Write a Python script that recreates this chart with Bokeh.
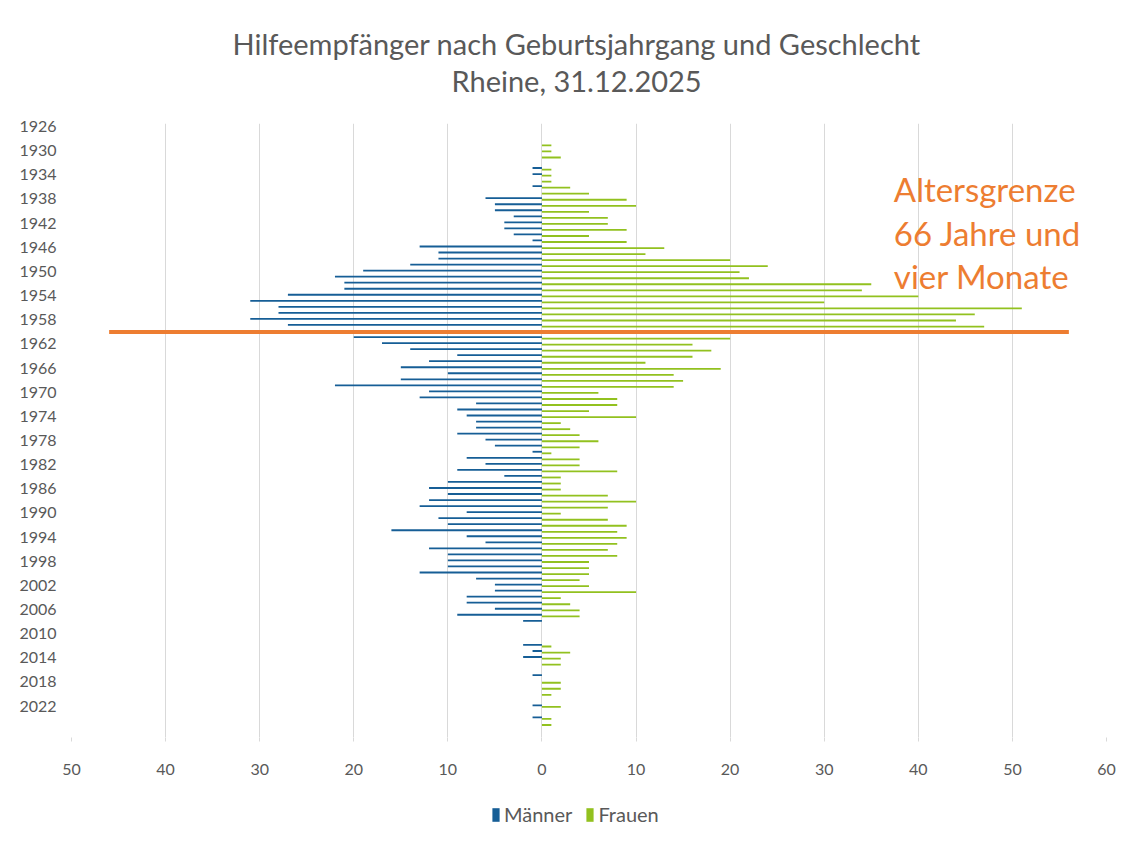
from bokeh.plotting import figure
from bokeh.layouts import column
from bokeh.models import Range1d, FixedTicker, Legend, LegendItem, Title
from bokeh.embed import file_html
from bokeh.resources import INLINE
from bokeh.core.properties import value

# ---------------- data ----------------
years = list(range(1926, 2026))

maenner = [
    0, 0, 0, 0, 0, 0, 0, 1, 1, 0,          # 1926-1935
    1, 0, 6, 5, 5, 3, 4, 4, 3, 1,          # 1936-1945
    13, 11, 11, 14, 19, 22, 21, 21, 27, 31,  # 1946-1955
    28, 28, 31, 27, 0, 20, 17, 14, 9, 12,  # 1956-1965
    15, 10, 15, 22, 12, 13, 7, 9, 8, 7,    # 1966-1975
    7, 9, 6, 5, 1, 8, 6, 9, 4, 10,         # 1976-1985
    12, 10, 12, 13, 8, 11, 10, 16, 8, 6,   # 1986-1995
    12, 10, 10, 10, 13, 7, 5, 5, 8, 8,     # 1996-2005
    5, 9, 2, 0, 0, 0, 2, 1, 2, 0,          # 2006-2015
    0, 1, 0, 0, 0, 0, 1, 0, 1, 0,          # 2016-2025
]

frauen = [
    0, 0, 0, 1, 1, 2, 0, 1, 1, 1,          # 1926-1935
    3, 5, 9, 10, 5, 7, 7, 9, 5, 9,         # 1936-1945
    13, 11, 20, 24, 21, 22, 35, 34, 40, 30,  # 1946-1955
    51, 46, 44, 47, 0, 20, 16, 18, 16, 11,  # 1956-1965
    19, 14, 15, 14, 6, 8, 8, 5, 10, 2,     # 1966-1975
    3, 4, 6, 4, 1, 4, 4, 8, 2, 2,          # 1976-1985
    2, 7, 10, 7, 2, 7, 9, 8, 9, 8,         # 1986-1995
    7, 8, 5, 5, 5, 4, 5, 10, 2, 3,         # 1996-2005
    4, 4, 0, 0, 0, 0, 1, 3, 2, 2,          # 2006-2015
    0, 0, 2, 2, 1, 0, 2, 0, 1, 1,          # 2016-2025
]

x_ticks = [-50, -40, -30, -20, -10, 0, 10, 20, 30, 40, 50, 60]
y_tick_years = list(range(1926, 2023, 4))

title_line1 = "Hilfeempfänger nach Geburtsjahrgang und Geschlecht"
title_line2 = "Rheine, 31.12.2025"
note_lines = ["Altersgrenze", "66 Jahre und", "vier Monate"]
limit_year = 1960.05
limit_x = (-46, 56)

# ---------------- styling ----------------
FONT = "Lato"
GRAY = "#595959"
BLUE = "#165E96"
GREEN = "#92C11F"
ORANGE = "#ED7D31"

p = figure(
    width=1136, height=790,
    x_range=Range1d(-50, 60),
    y_range=Range1d(2027.2, 1925.5),
    output_backend="svg", toolbar_location=None,
    min_border_left=71, min_border_right=30,
    min_border_top=123, min_border_bottom=53,
)
p.outline_line_color = None
p.background_fill_color = "white"

# titles: panels stack outward from the plot area
p.add_layout(Title(text=" ", text_font_size="10px", standoff=13), "above")
p.add_layout(Title(text=title_line2, align="left", offset=380, text_font=FONT,
                   text_font_size="29px", text_font_style="normal",
                   text_color=GRAY, standoff=0), "above")
p.add_layout(Title(text=title_line1, align="left", offset=161, text_font=FONT,
                   text_font_size="29px", text_font_style="normal",
                   text_color=GRAY, standoff=0), "above")

# bars
y_m = [y - 0.13 for y in years]
y_f = [y + 0.13 for y in years]
neg_m = [-v for v in maenner]
p.hbar(y=y_m, left=neg_m, right=0, height=0.3, fill_color=BLUE, line_color=None)
p.hbar(y=y_f, left=0, right=frauen, height=0.3, fill_color=GREEN, line_color=None)

# age-limit line and note
p.segment(x0=[limit_x[0]], x1=[limit_x[1]], y0=[limit_year], y1=[limit_year],
          line_color=ORANGE, line_width=4)
p.text(x=[37.4, 37.4, 37.4], y=[1936.4, 1943.7, 1950.8], text=note_lines,
       text_font=value(FONT), text_font_size="33px", text_color=ORANGE,
       text_baseline="middle", text_align="left")

# axes
p.xaxis.ticker = FixedTicker(ticks=x_ticks)
p.xaxis.major_label_overrides = {t: str(abs(t)) for t in x_ticks}
p.xaxis.axis_line_color = None
p.xaxis.major_tick_line_color = "#D9D9D9"
p.xaxis.major_tick_out = 4
p.xaxis.major_tick_in = 0
p.xaxis.minor_tick_line_color = None
p.xaxis.major_label_standoff = 22
p.xaxis.major_label_text_font = FONT
p.xaxis.major_label_text_font_size = "16px"
p.xaxis.major_label_text_color = GRAY

p.yaxis.ticker = FixedTicker(ticks=y_tick_years)
p.yaxis.major_label_overrides = {t: str(t) for t in y_tick_years}
p.yaxis.axis_line_color = None
p.yaxis.major_tick_line_color = None
p.yaxis.minor_tick_line_color = None
p.yaxis.major_label_standoff = 9
p.yaxis.major_label_text_font = FONT
p.yaxis.major_label_text_font_size = "16px"
p.yaxis.major_label_text_color = GRAY

p.xgrid.ticker = FixedTicker(ticks=x_ticks)
p.xgrid.grid_line_color = "#D9D9D9"
p.ygrid.grid_line_color = None

# legend strip below the chart (its plot area is aligned with the chart's)
leg = figure(width=1136, height=52, x_range=Range1d(0, 1), y_range=Range1d(0, 1),
             output_backend="svg", toolbar_location=None,
             x_axis_type=None, y_axis_type=None,
             min_border=0, min_border_left=0, min_border_right=0,
             min_border_top=0, min_border_bottom=0)
leg.outline_line_color = None
leg.background_fill_color = "white"
# legend swatches: zero-length bars outside the visible range
lm = leg.hbar(y=[-5], left=[0], right=[0], height=1, fill_color=BLUE, line_color=None)
lf = leg.hbar(y=[-5], left=[0], right=[0], height=1, fill_color=GREEN, line_color=None)
legend = Legend(
    items=[LegendItem(label="Männer", renderers=[lm]),
           LegendItem(label="Frauen", renderers=[lf])],
    orientation="horizontal", location=(420, 16),
    glyph_width=9, glyph_height=17, label_standoff=4, spacing=13,
    padding=2, margin=0, border_line_color=None, background_fill_alpha=0,
    label_text_font=FONT, label_text_font_size="20px", label_text_color=GRAY,
)
leg.add_layout(legend)

open("out.html", "w").write(file_html(column(p, leg, spacing=0), INLINE))
